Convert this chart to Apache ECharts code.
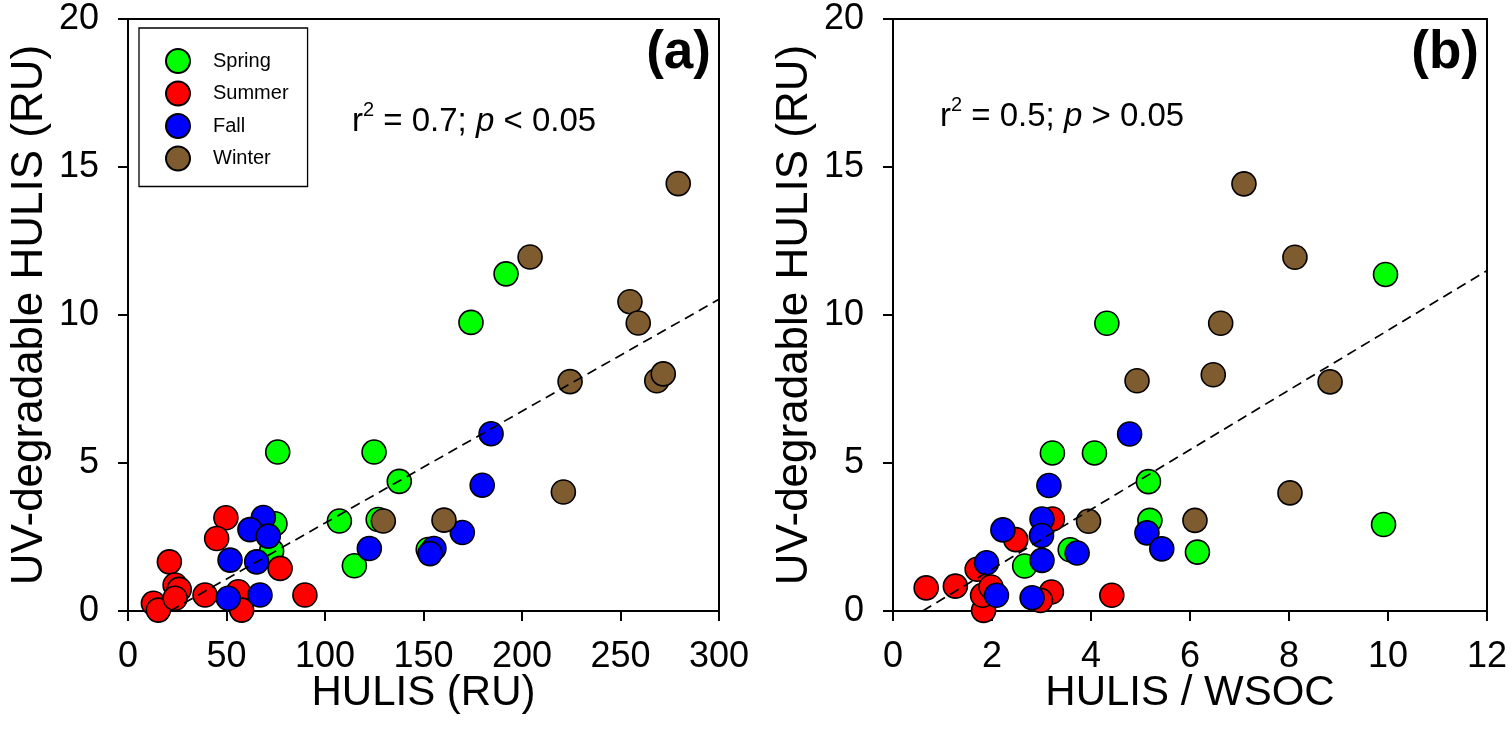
<!DOCTYPE html>
<html>
<head>
<meta charset="utf-8">
<script src="https://cdn.jsdelivr.net/npm/echarts@6/dist/echarts.min.js"></script>
<style>
html,body{margin:0;padding:0;background:#fff;}
#chart{width:1512px;height:736px;}
</style>
</head>
<body>
<div id="chart"></div>
<script>
// ---- Data ----
const seasons = ['Spring', 'Summer', 'Fall', 'Winter'];
const seasonColors = ['#00ff00', '#ff0000', '#0000ff', '#7f5b30'];

// Panel (a): HULIS (RU) vs UV-degradable HULIS (RU)
const springA = [[76.0,5.37],[124.9,5.37],[137.7,4.38],[107.3,3.04],[127.0,3.09],[74.6,2.95],[72.9,2.03],[114.9,1.53],[152.4,2.08],[191.9,11.39],[174.1,9.75]];
const summerA = [[49.7,3.15],[45.0,2.45],[21.0,1.66],[23.9,0.88],[26.0,0.73],[12.9,0.26],[15.4,0.03],[23.9,0.43],[39.1,0.54],[56.0,0.65],[57.7,0.03],[77.2,1.44],[89.8,0.54]];
const fallA   = [[68.7,3.16],[61.9,2.75],[71.2,2.53],[51.8,1.72],[65.3,1.66],[50.9,0.43],[67.0,0.54],[122.5,2.11],[155.3,2.11],[153.3,1.94],[169.7,2.65],[179.8,4.25],[184.3,5.99]];
const winterA = [[129.6,3.04],[160.4,3.07],[221.0,4.02],[224.4,7.75],[204.1,11.96],[254.8,10.45],[259.0,9.73],[268.4,7.78],[271.7,8.01],[279.3,14.44]];
const fitA = [[21.4,0],[300,10.53]];

// Panel (b): HULIS / WSOC vs UV-degradable HULIS (RU)
const springB = [[3.22,5.34],[4.07,5.34],[5.16,4.37],[5.19,3.06],[6.15,1.99],[3.58,2.07],[2.66,1.52],[4.32,9.72],[9.95,11.37],[9.91,2.92]];
const summerB = [[0.67,0.78],[1.26,0.84],[1.70,1.41],[2.48,2.41],[3.22,3.11],[1.83,0.02],[1.81,0.53],[1.98,0.81],[3.20,0.64],[2.98,0.36],[4.42,0.53]];
const fallB   = [[4.78,5.98],[3.15,4.24],[3.01,3.11],[2.22,2.74],[3.00,2.55],[5.13,2.64],[5.43,2.10],[3.72,1.96],[3.01,1.71],[1.89,1.63],[2.09,0.53],[2.81,0.45]];
const winterB = [[7.09,14.43],[8.12,11.95],[6.62,9.72],[4.93,7.78],[6.47,7.98],[8.83,7.74],[8.02,3.99],[6.10,3.06],[3.95,3.03]];
const fitB = [[0.6,0],[12,11.5]];

const yTitle = 'UV-degradable HULIS (RU)';
const xTitleA = 'HULIS (RU)';
const xTitleB = 'HULIS / WSOC';
const statA = ' = 0.7; ';
const statB = ' = 0.5; ';
const pA = ' < 0.05';
const pB = ' > 0.05';

// ---- Chart ----
const FONT = "'Liberation Sans', Arial, sans-serif";
const chart = echarts.init(document.getElementById('chart'), null, {renderer: 'canvas'});

function xAxis(idx, max, interval, name) {
  return {
    type: 'value', gridIndex: idx, min: 0, max: max, interval: interval,
    name: name, nameLocation: 'middle', nameGap: 61, nameMoveOverlap: false,
    nameTextStyle: {fontFamily: FONT, fontSize: 42, color: '#000'},
    axisLine: {show: true, onZero: false, lineStyle: {color: '#000', width: 2}},
    axisTick: {show: true, inside: false, length: 10, lineStyle: {color: '#000', width: 2}},
    axisLabel: {fontFamily: FONT, fontSize: 36, color: '#000', margin: 28},
    splitLine: {show: false}
  };
}
function yAxis(idx) {
  return {
    type: 'value', gridIndex: idx, min: 0, max: 20, interval: 5,
    name: yTitle, nameLocation: 'middle', nameGap: 76, nameRotate: 90, nameMoveOverlap: false,
    nameTextStyle: {fontFamily: FONT, fontSize: 44, color: '#000'},
    axisLine: {show: true, onZero: false, lineStyle: {color: '#000', width: 2}},
    axisTick: {show: true, inside: false, length: 10, lineStyle: {color: '#000', width: 2}},
    axisLabel: {fontFamily: FONT, fontSize: 36, color: '#000', margin: 29},
    splitLine: {show: false}
  };
}
function scatter(name, data, ci, idx) {
  return {
    name: name, type: 'scatter', xAxisIndex: idx, yAxisIndex: idx,
    data: data, symbol: 'circle', symbolSize: 24,
    itemStyle: {color: seasonColors[ci], borderColor: '#000', borderWidth: 1.6, opacity: 1},
    emphasis: {disabled: true}
  };
}
function fit(data, idx) {
  return {
    type: 'line', xAxisIndex: idx, yAxisIndex: idx, data: data,
    showSymbol: false, symbol: 'none', silent: true,
    lineStyle: {color: '#000', width: 1.7, type: [10, 6]}
  };
}

const statRich = {
  n: {fontFamily: FONT, fontSize: 33, color: '#000', lineHeight: 38, verticalAlign: 'bottom'},
  s: {fontFamily: FONT, fontSize: 20, color: '#000', lineHeight: 20, verticalAlign: 'top'},
  i: {fontFamily: FONT, fontSize: 33, color: '#000', fontStyle: 'italic', lineHeight: 38, verticalAlign: 'bottom'}
};

chart.setOption({
  animation: false,
  backgroundColor: '#fff',
  grid: [
    {left: 128, top: 19, width: 591, height: 592, show: true, borderColor: '#000', borderWidth: 2, backgroundColor: 'transparent'},
    {left: 893, top: 19, width: 594, height: 592, show: true, borderColor: '#000', borderWidth: 2, backgroundColor: 'transparent'}
  ],
  xAxis: [xAxis(0, 300, 50, xTitleA), xAxis(1, 12, 2, xTitleB)],
  yAxis: [yAxis(0), yAxis(1)],
  legend: {
    data: seasons, left: 139, top: 28, orient: 'vertical',
    icon: 'circle', itemWidth: 24, itemHeight: 24, itemGap: 6.5,
    padding: [20, 19, 15, 26],
    borderColor: '#000', borderWidth: 1.3, backgroundColor: '#fff',
    selectedMode: false,
    textStyle: {fontFamily: FONT, fontSize: 20, color: '#000', padding: [0, 0, 0, 18]}
  },
  series: [
    fit(fitA, 0), fit(fitB, 1),
    scatter('Spring', springA, 0, 0), scatter('Summer', summerA, 1, 0),
    scatter('Fall', fallA, 2, 0), scatter('Winter', winterA, 3, 0),
    scatter('Spring', springB, 0, 1), scatter('Summer', summerB, 1, 1),
    scatter('Fall', fallB, 2, 1), scatter('Winter', winterB, 3, 1)
  ],
  graphic: [
    {type: 'text', left: 352, top: 100, style: {text: '{n|r}{s|2}{n|' + statA + '}{i|p}{n|' + pA + '}', rich: statRich}},
    {type: 'text', left: 940, top: 95, style: {text: '{n|r}{s|2}{n|' + statB + '}{i|p}{n|' + pB + '}', rich: statRich}},
    {type: 'text', right: 1512 - 711, top: 27, style: {text: '(a)', fontFamily: FONT, fontSize: 53, fontWeight: 'bold', fill: '#000'}},
    {type: 'text', right: 1512 - 1479, top: 27, style: {text: '(b)', fontFamily: FONT, fontSize: 53, fontWeight: 'bold', fill: '#000'}}
  ]
});
</script>
</body>
</html>
